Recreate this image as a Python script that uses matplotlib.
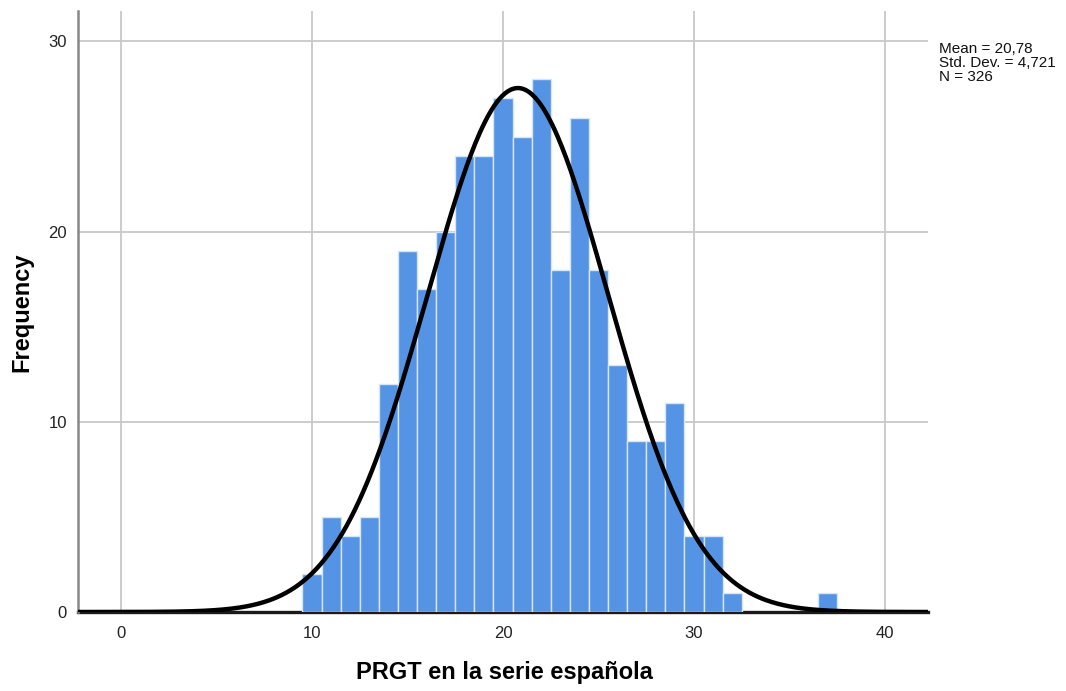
import numpy as np
import matplotlib
matplotlib.use("Agg")
import matplotlib.pyplot as plt

# Score values (bin centres, width 1) and their frequencies
scores = [10, 11, 12, 13, 14, 15, 16, 17, 18, 19, 20, 21, 22, 23, 24, 25,
          26, 27, 28, 29, 30, 31, 32, 37]
counts = [2, 5, 4, 5, 12, 19, 17, 20, 24, 24, 27, 25, 28, 18, 26, 18,
          13, 9, 9, 11, 4, 4, 1, 1]

mean_val = 20.78
std_val = 4.721
n_total = 326
bin_width = 1.0

x_ticks = [0, 10, 20, 30, 40]
y_ticks = [0, 10, 20, 30]

font = ['Liberation Sans', 'DejaVu Sans']

W, H = 1066, 691
fig = plt.figure(figsize=(W / 100, H / 100), dpi=100)
ax = fig.add_axes([78 / W, 1 - 612 / H, (928 - 78) / W, (612 - 11) / H])

ax.set_xlim(-2.25, 42.25)
ax.set_ylim(0, 31.6)

ax.set_axisbelow(True)
ax.grid(True, color='#c8c8c8', linewidth=1.3)

ax.bar(scores, counts, width=bin_width, color='#5594e4',
       edgecolor='#d6e6f8', linewidth=1.0, zorder=2)

xs = np.linspace(-2.25, 42.25, 600)
pdf = n_total * bin_width / (std_val * np.sqrt(2 * np.pi)) * \
    np.exp(-0.5 * ((xs - mean_val) / std_val) ** 2)
ax.plot(xs, pdf, color='black', linewidth=3.2, zorder=3, solid_capstyle='butt')

for side in ('top', 'right'):
    ax.spines[side].set_visible(False)
ax.spines['left'].set_color('#888888')
ax.spines['left'].set_linewidth(1.8)
ax.spines['bottom'].set_color('#1a1a1a')
ax.spines['bottom'].set_linewidth(2.4)
ax.spines['bottom'].set_zorder(1)

ax.set_xticks(x_ticks)
ax.set_yticks(y_ticks)
ax.tick_params(axis='x', length=0, pad=10)
ax.tick_params(axis='y', length=0, pad=8)
for lab in ax.get_xticklabels() + ax.get_yticklabels():
    lab.set_family(font)
    lab.set_fontsize(12)
    lab.set_color('#222222')

fig.text(504 / W, 1 - 672 / H, 'PRGT en la serie española', family=font,
         fontsize=17, fontweight='bold', ha='center', va='center')
fig.text(22 / W, 1 - 312 / H, 'Frequency', family=font, fontsize=17,
         fontweight='bold', rotation=90, ha='center', va='center')

stats = "Mean = 20,78\nStd. Dev. = 4,721\nN = 326"
fig.text(939 / W, 1 - 42 / H, stats, family=font, fontsize=11.0,
         va='top', ha='left', linespacing=1.0, color='#111111')

fig.savefig('out.png', dpi=100)
